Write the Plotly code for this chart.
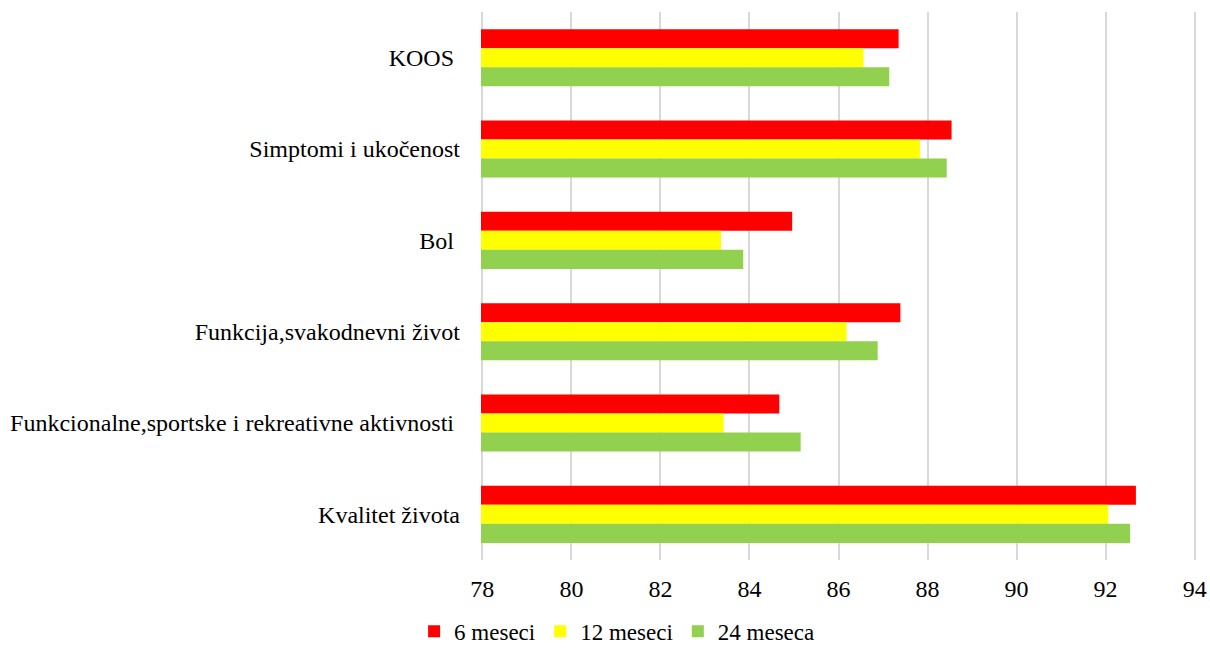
import plotly.graph_objects as go

# KOOS subscale scores at three follow-up points
categories = [
    "KOOS\u00a0",
    "Simptomi i ukočenost",
    "Bol\u00a0",
    "Funkcija,svakodnevni život",
    "Funkcionalne,sportske i rekreativne aktivnosti\u00a0",
    "Kvalitet života",
]
months_6 = [87.35, 88.54, 84.96, 87.39, 84.67, 92.68]
months_12 = [86.56, 87.83, 83.36, 86.18, 83.42, 92.06]
months_24 = [87.14, 88.43, 83.86, 86.88, 85.15, 92.55]

series = [
    ("6 meseci", months_6, "#FF0000"),
    ("12 meseci", months_12, "#FFFF00"),
    ("24 meseca", months_24, "#92D050"),
]

x_ticks = [78, 80, 82, 84, 86, 88, 90, 92, 94]

fig = go.Figure()
for name, vals, color in series:
    fig.add_trace(go.Bar(
        y=categories, x=vals, name=name, orientation="h",
        marker=dict(color=color, line=dict(width=0)),
    ))

font_family = "Liberation Serif"
fig.update_layout(
    width=1210, height=648,
    margin=dict(l=481, r=14, t=12, b=88, autoexpand=False),
    barmode="group", bargap=0.375, bargroupgap=0,
    plot_bgcolor="white", paper_bgcolor="white",
    font=dict(family=font_family, size=24, color="#000000"),
    legend=dict(
        orientation="h", xref="container", x=0.51, xanchor="center",
        yref="paper", y=-0.13, yanchor="middle",
        font=dict(family=font_family, size=23), itemwidth=30,
    ),
    xaxis=dict(
        range=[77.97, 94.03], tickvals=x_ticks, showgrid=True,
        gridcolor="#d9d9d9", gridwidth=2, zeroline=False,
        showline=False, ticklabelstandoff=12, automargin=False,
        tickfont=dict(family=font_family, size=24),
    ),
    yaxis=dict(
        autorange="reversed", showgrid=False, showline=False,
        ticklabelstandoff=20, automargin=False,
        tickfont=dict(family=font_family, size=24),
    ),
)

fig.write_html("out.html")
